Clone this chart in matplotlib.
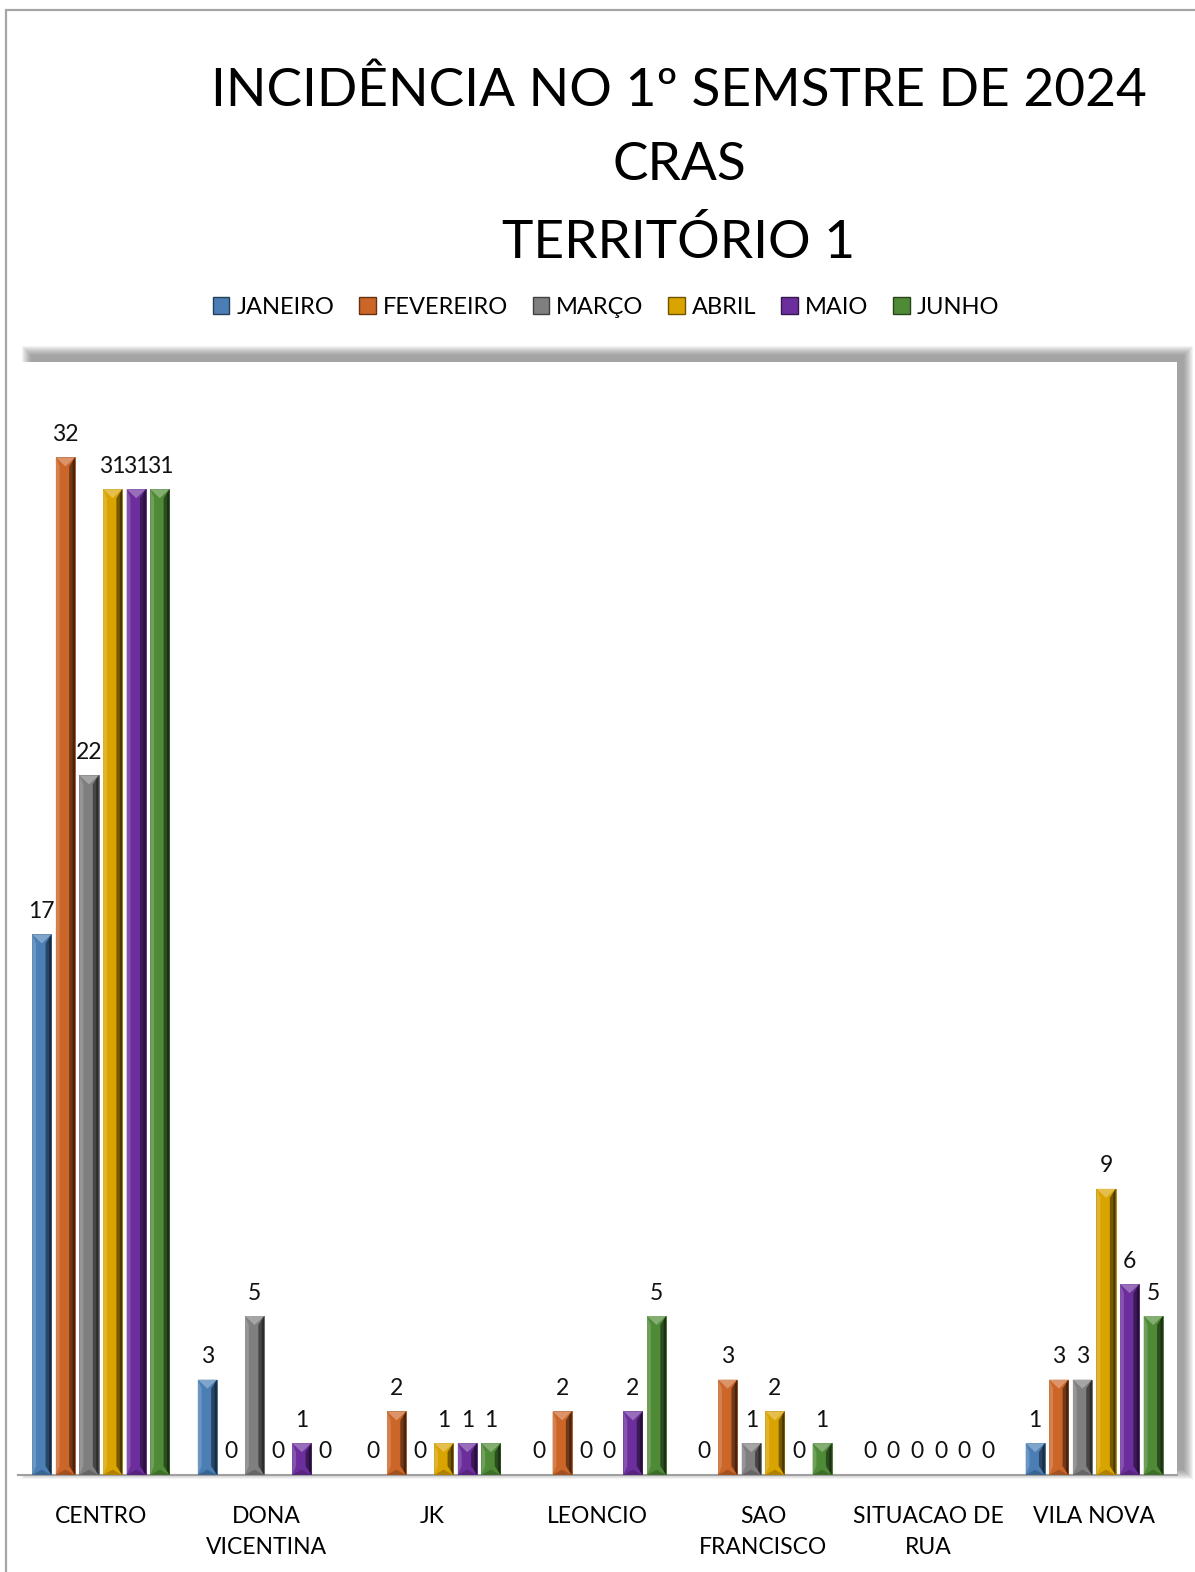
"""Incidência no 1º semestre de 2024 - CRAS Território 1 (beveled column chart)."""

import matplotlib
matplotlib.use('Agg')
import matplotlib.pyplot as plt
import numpy as np
from matplotlib.patches import Polygon, Rectangle, Patch

plt.rcParams['font.family'] = ['Lato', 'DejaVu Sans']

# Data
bairros = ['CENTRO', 'DONA\nVICENTINA', 'JK', 'LEONCIO', 'SAO\nFRANCISCO',
           'SITUACAO DE\nRUA', 'VILA NOVA']
meses = ['JANEIRO', 'FEVEREIRO', 'MARÇO', 'ABRIL', 'MAIO', 'JUNHO']
janeiro = [17, 3, 0, 0, 0, 0, 1]
fevereiro = [32, 0, 2, 2, 3, 0, 3]
marco = [22, 5, 0, 0, 1, 0, 3]
abril = [31, 0, 1, 0, 2, 0, 9]
maio = [31, 1, 1, 2, 0, 0, 6]
junho = [31, 0, 1, 5, 1, 0, 5]
series = [janeiro, fevereiro, marco, abril, maio, junho]
cores = ['#4A7EB5', '#CB6528', '#7F7F7F', '#D9A300', '#6C2E9C', '#4F8A36']

W, H = 1195, 1572
fig = plt.figure(figsize=(W / 100, H / 100), dpi=100)
fig.patch.set_facecolor('white')

# plot area in pixels
left_px, right_px, top_px, base_px = 18, 1177, 362, 1475
ax = fig.add_axes([left_px / W, 1 - base_px / H,
                   (right_px - left_px) / W, (base_px - top_px) / H])
ax.set_zorder(2)

# outer chart border
fig.add_artist(Rectangle((5.5 / W, -0.1), 1.2, 1 - 10 / H + 0.1,
                         transform=fig.transFigure, fill=False,
                         edgecolor='#a6a6a6', linewidth=1.6, zorder=0))

# soft shadow behind plot area (offset up and right)
sx0, sx1 = left_px + 14, right_px + 6
sy0, sy1 = top_px - 6, base_px - 6
for k in range(10):
    g = 10 - k
    fig.add_artist(Rectangle(((sx0 - g) / W, 1 - (sy1 + g) / H),
                             (sx1 - sx0 + 2 * g) / W, (sy1 - sy0 + 2 * g) / H,
                             transform=fig.transFigure, facecolor='#555555',
                             edgecolor='none', alpha=0.07, zorder=1))


def shade(c, f):
    rgb = np.array(matplotlib.colors.to_rgb(c))
    if f < 1:
        return tuple(rgb * f)
    return tuple(rgb + (1 - rgb) * (f - 1))


n = len(series)
step = 0.1426
bw = 0.115
x = np.arange(len(bairros))
ymax = 35
px_per_unit = (base_px - top_px) / ymax
t = 9 / px_per_unit

for i, (vals, cor) in enumerate(zip(series, cores)):
    xs = x + (i - (n - 1) / 2) * step
    for xc, h in zip(xs, vals):
        x0, x1 = xc - bw / 2, xc + bw / 2
        if h > 0:
            ax.add_patch(Rectangle((x0, 0), bw, h, facecolor=cor,
                                   edgecolor=shade(cor, 0.8), linewidth=0.6, zorder=3))
            tt = min(t, h / 2)
            # right darker face
            ax.add_patch(Polygon([(x1, 0), (x1, h), (x1 - bw * 0.3, h - tt),
                                  (x1 - bw * 0.3, tt)],
                                 facecolor=shade(cor, 0.55), edgecolor='none', zorder=4))
            ax.add_patch(Polygon([(x1, 0), (x1, h), (x1 - bw * 0.12, h - tt * 0.5),
                                  (x1 - bw * 0.12, tt * 0.5)],
                                 facecolor=shade(cor, 0.35), edgecolor='none', zorder=4))
            # left lighter face
            ax.add_patch(Polygon([(x0, 0), (x0, h), (x0 + bw * 0.2, h - tt),
                                  (x0 + bw * 0.2, tt)],
                                 facecolor=shade(cor, 1.18), edgecolor='none', zorder=4))
            # top bevel
            ax.add_patch(Polygon([(x0, h), (x1, h), (xc, h - tt)],
                                 facecolor=shade(cor, 1.3), edgecolor='none', zorder=5))
            # bottom bevel
            ax.add_patch(Polygon([(x0, 0), (x1, 0), (xc, tt * 0.6)],
                                 facecolor=shade(cor, 0.8), edgecolor='none', zorder=5))
        ax.annotate(f'{h}', xy=(xc, h), xytext=(0, 9), textcoords='offset points',
                    ha='center', va='bottom', fontsize=16.5, color='#111111', zorder=6)

ax.set_xlim(-0.5, len(bairros) - 0.5)
ax.set_ylim(0, ymax)
ax.set_xticks(x)
ax.set_xticklabels(bairros, fontsize=16.5, linespacing=1.6)
ax.tick_params(axis='x', length=0, pad=22)
ax.set_yticks([])
for s in ['top', 'right', 'left']:
    ax.spines[s].set_visible(False)
ax.spines['bottom'].set_color('#a0a0a0')
ax.spines['bottom'].set_linewidth(1.5)

# title
fig.text(679 / W, 1 - 167 / H, 'INCIDÊNCIA NO 1º SEMSTRE DE 2024\nCRAS\nTERRITÓRIO 1',
         ha='center', va='center', fontsize=38.3, linespacing=1.72, color='black')

# legend
handles = [Patch(facecolor=c, edgecolor=shade(c, 0.5), label=m)
           for m, c in zip(meses, cores)]
fig.legend(handles=handles, loc='center', bbox_to_anchor=(606 / W, 1 - 307 / H),
           ncol=6, frameon=False, fontsize=17, handlelength=0.7, handleheight=0.7,
           handletextpad=0.3, columnspacing=1.05)

fig.savefig('out.png', dpi=100, facecolor='white')
